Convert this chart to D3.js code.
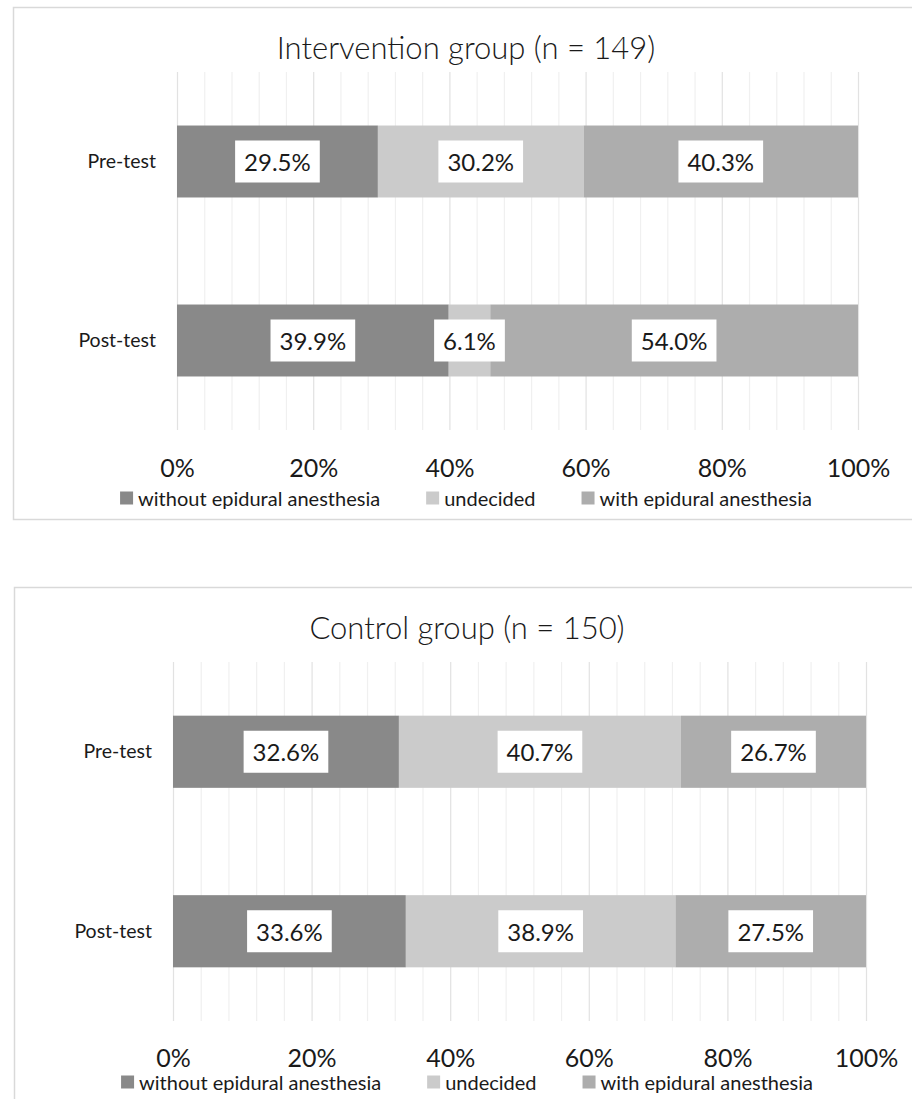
<!DOCTYPE html>
<html>
<head>
<meta charset="utf-8">
<script src="https://cdn.jsdelivr.net/npm/d3@7"></script>
<style>
  html, body { margin: 0; padding: 0; background: #ffffff; }
  svg { display: block; }
  text { font-family: Lato, "Open Sans", sans-serif; fill: #1a1a1a; }
</style>
</head>
<body>
<svg id="chart" width="912" height="1099"></svg>
<script>
// ---- data ----
const categories = ["Pre-test", "Post-test"];
const seriesNames = ["without epidural anesthesia", "undecided", "with epidural anesthesia"];
const seriesColors = ["#898989", "#cbcbcb", "#adadad"];
const panelTitles = ["Intervention group (n = 149)", "Control group (n = 150)"];
const interventionWithout = [29.5, 39.9];
const interventionUndecided = [30.2, 6.1];
const interventionWith = [40.3, 54.0];
const controlWithout = [32.6, 33.6];
const controlUndecided = [40.7, 38.9];
const controlWith = [26.7, 27.5];
const tickValues = [0, 20, 40, 60, 80, 100];
const minorTickValues = d3.range(0, 101, 4);

const svg = d3.select("#chart");

const panels = [
  { title: panelTitles[0], series: [interventionWithout, interventionUndecided, interventionWith],
    box: { x: 13, y: 7, w: 906, h: 512 }, titleY: 47,
    plot: { x0: 177, x1: 858, y0: 72, y1: 430 }, tickY: 467, legendY: 498 },
  { title: panelTitles[1], series: [controlWithout, controlUndecided, controlWith],
    box: { x: 14, y: 587, w: 906, h: 530 }, titleY: 627,
    plot: { x0: 173, x1: 866, y0: 662, y1: 1021 }, tickY: 1057, legendY: 1082 }
];

panels.forEach(p => {
  const g = svg.append("g");
  // panel border
  g.append("rect")
    .attr("x", p.box.x + 0.5).attr("y", p.box.y + 0.5)
    .attr("width", p.box.w).attr("height", p.box.h)
    .attr("fill", "#ffffff").attr("stroke", "#d9d9d9").attr("stroke-width", 1.5);

  // title
  g.append("text")
    .attr("x", p.box.x + p.box.w / 2).attr("y", p.titleY)
    .attr("text-anchor", "middle").attr("dominant-baseline", "central")
    .style("font-size", "31px").style("font-weight", 300)
    .text(p.title);

  const x = d3.scaleLinear().domain([0, 100]).range([p.plot.x0, p.plot.x1]);
  const y = d3.scaleBand().domain(categories).range([p.plot.y0, p.plot.y1])
    .paddingInner(0.598).paddingOuter(0.299);

  // gridlines
  g.append("g").selectAll("line").data(minorTickValues).join("line")
    .attr("x1", d => x(d) + 0.5).attr("x2", d => x(d) + 0.5)
    .attr("y1", p.plot.y0).attr("y2", p.plot.y1)
    .attr("stroke", d => d % 20 === 0 ? "#e2e2e2" : "#f0f0f0")
    .attr("stroke-width", 1.2);

  // stacked data
  const rows = categories.map((c, i) => {
    const r = { category: c };
    seriesNames.forEach((s, j) => { r[s] = p.series[j][i]; });
    return r;
  });
  const stacked = d3.stack().keys(seriesNames)(rows);

  const layers = g.append("g").selectAll("g").data(stacked).join("g")
    .attr("fill", (d, i) => seriesColors[i]);
  layers.selectAll("rect").data(d => d).join("rect")
    .attr("x", d => x(d[0]))
    .attr("y", d => y(d.data.category))
    .attr("width", d => x(d[1]) - x(d[0]))
    .attr("height", y.bandwidth());

  // labels with white boxes
  const labelG = g.append("g");
  stacked.forEach(layer => {
    layer.forEach(d => {
      const cx = (x(d[0]) + x(d[1])) / 2;
      const cy = y(d.data.category) + y.bandwidth() / 2;
      const lg = labelG.append("g");
      const t = lg.append("text")
        .attr("x", cx).attr("y", cy)
        .attr("text-anchor", "middle").attr("dominant-baseline", "central")
        .style("font-size", "24px")
        .text((d[1] - d[0]).toFixed(1) + "%");
      const bb = t.node().getBBox();
      lg.insert("rect", "text")
        .attr("x", cx - bb.width / 2 - 9).attr("y", cy - 21)
        .attr("width", bb.width + 18).attr("height", 42)
        .attr("fill", "#ffffff");
    });
  });

  // category axis labels
  const yAxis = d3.axisLeft(y).tickSize(0).tickPadding(21);
  const ya = g.append("g").attr("transform", `translate(${p.plot.x0},0)`).call(yAxis);
  ya.select(".domain").remove();
  ya.selectAll("text").style("font-size", "19.5px").attr("fill", "#1a1a1a")
    .style("font-family", "Lato, 'Open Sans', sans-serif");

  // x axis tick labels
  const xAxis = d3.axisBottom(x).tickValues(tickValues).tickSize(0).tickPadding(0)
    .tickFormat(d => d + "%");
  const xa = g.append("g").attr("transform", `translate(0,${p.tickY})`).call(xAxis);
  xa.select(".domain").remove();
  xa.selectAll("text").attr("dy", null).attr("dominant-baseline", "central")
    .style("font-size", "25px").attr("fill", "#1a1a1a")
    .style("font-family", "Lato, 'Open Sans', sans-serif");

  // legend
  const legend = g.append("g");
  const items = legend.selectAll("g").data(seriesNames).join("g");
  items.append("rect").attr("width", 13).attr("height", 13).attr("y", -6.5)
    .attr("fill", (d, i) => seriesColors[i]);
  items.append("text").attr("x", 18).attr("y", 0).attr("dominant-baseline", "central")
    .style("font-size", "20px").text(d => d);
  let offset = 0;
  const gap = 46;
  items.each(function () {
    d3.select(this).attr("transform", `translate(${offset},${p.legendY})`);
    offset += this.getBBox().width + gap;
  });
  const totalW = offset - gap;
  legend.attr("transform", `translate(${p.box.x + p.box.w / 2 - totalW / 2},0)`);
});
</script>
</body>
</html>
